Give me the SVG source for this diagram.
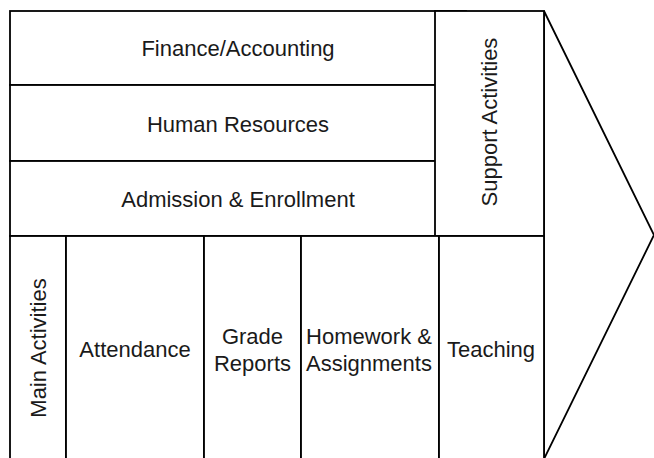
<svg xmlns="http://www.w3.org/2000/svg" width="654" height="458" viewBox="0 0 654 458">
<style>
.box{fill:#ffffff;stroke:#000000;stroke-width:1.8}
.lbl{font-family:"Liberation Sans",Arial,sans-serif;font-size:22px;fill:#1a1a1a;text-anchor:middle}
</style>
<rect x="0" y="0" width="654" height="458" fill="#ffffff"/>
<g id="arrow">
<polygon class="box" points="544,11 654,235 544,459"/>
</g>
<g id="finance">
<rect class="box" x="10" y="11" width="456" height="74"/>
<text class="lbl" x="238" y="56">Finance/Accounting</text>
</g>
<g id="human-resources">
<rect class="box" x="10" y="85" width="456" height="76"/>
<text class="lbl" x="238" y="132">Human Resources</text>
</g>
<g id="admission">
<rect class="box" x="10" y="161" width="456" height="75"/>
<text class="lbl" x="238" y="207">Admission &amp; Enrollment</text>
</g>
<g id="support-activities">
<rect class="box" x="435" y="11" width="109" height="225"/>
<text class="lbl" transform="translate(497,122) rotate(-90)" x="0" y="0">Support Activities</text>
</g>
<g id="main-activities">
<rect class="box" x="10" y="236" width="56" height="224"/>
<text class="lbl" transform="translate(46,348) rotate(-90)" x="0" y="0">Main Activities</text>
</g>
<g id="attendance">
<rect class="box" x="66" y="236" width="138" height="224"/>
<text class="lbl" x="135" y="357">Attendance</text>
</g>
<g id="grade-reports">
<rect class="box" x="204" y="236" width="97" height="224"/>
<text class="lbl" x="252.5" y="344">Grade</text>
<text class="lbl" x="252.5" y="371">Reports</text>
</g>
<g id="homework">
<rect class="box" x="301" y="236" width="138" height="224"/>
<text class="lbl" x="369" y="344">Homework &amp;</text>
<text class="lbl" x="369" y="371">Assignments</text>
</g>
<g id="teaching">
<rect class="box" x="439" y="236" width="105" height="224"/>
<text class="lbl" x="491" y="357">Teaching</text>
</g>
<g id="connectors"></g>
</svg>
